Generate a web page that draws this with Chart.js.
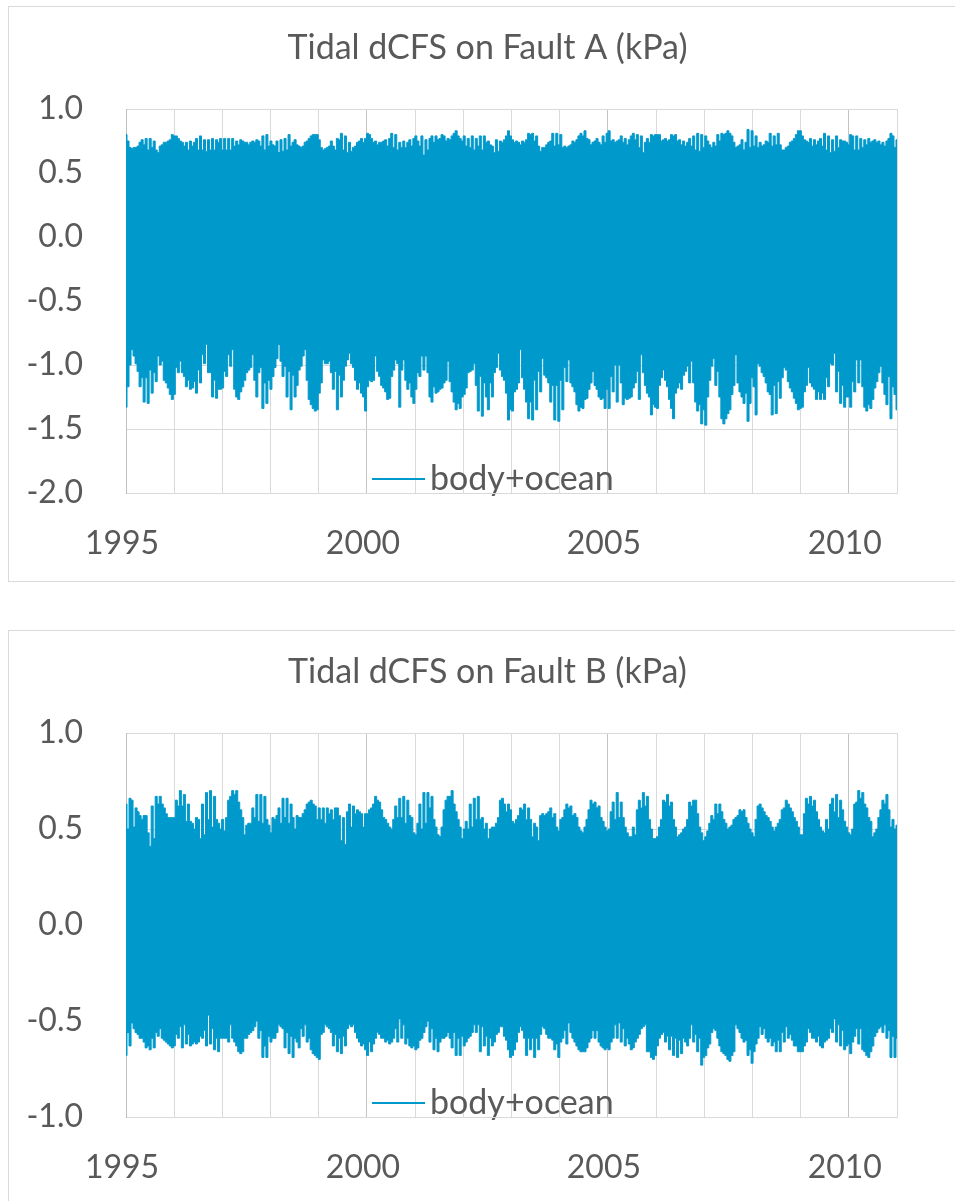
<!DOCTYPE html>
<html><head><meta charset="utf-8">
<script src="https://cdn.jsdelivr.net/npm/chart.js@4.4.1/dist/chart.umd.min.js"></script>
<style>
html,body{margin:0;padding:0;background:#fff;overflow:hidden;width:955px;height:1201px;}
.panel{position:absolute;left:8px;width:959px;border:1px solid #d9d9d9;box-sizing:border-box;background:#fff;}
canvas{position:absolute;left:0;}
</style></head><body>
<div class="panel" style="top:6px;height:576px"></div>
<div class="panel" style="top:630px;height:600px"></div>
<canvas id="cA" width="955" height="580" style="top:0px"></canvas>
<canvas id="cB" width="955" height="580" style="top:624px"></canvas>
<script>
// ---------------- data ----------------
const titleA = 'Tidal dCFS on Fault A (kPa)';
const titleB = 'Tidal dCFS on Fault B (kPa)';
const seriesName = 'body+ocean';
const yearTicks = [1995,1996,1997,1998,1999,2000,2001,2002,2003,2004,2005,2006,2007,2008,2009,2010,2011];
const xTickLabels = ['1995','2000','2005','2010'];
const yTicksA = [-2.0,-1.5,-1.0,-0.5,0.0,0.5,1.0];
const yTicksB = [-1.0,-0.5,0.0,0.5,1.0];
const seriesStart = 1995, seriesEnd = 2011;

// Fault A: upper / lower envelope of the tidal signal, half-monthly samples, 1995-2011
const upperA = [
0.80,0.75,0.70,0.69,0.70,0.70,0.71,0.74,0.76,0.72,0.77,0.68,0.77,0.70,0.75,0.68,0.66,0.71,0.72,0.74,0.74,0.75,0.76,0.80,
0.79,0.79,0.77,0.75,0.74,0.71,0.74,0.68,0.75,0.71,0.74,0.77,0.68,0.79,0.68,0.76,0.67,0.76,0.68,0.77,0.68,0.76,0.74,0.77,
0.68,0.77,0.68,0.77,0.68,0.77,0.71,0.75,0.72,0.76,0.75,0.74,0.74,0.72,0.74,0.75,0.74,0.76,0.75,0.71,0.79,0.68,0.80,0.71,
0.75,0.72,0.71,0.75,0.66,0.76,0.67,0.77,0.68,0.80,0.71,0.74,0.76,0.72,0.71,0.70,0.71,0.74,0.75,0.77,0.79,0.80,0.80,0.80,
0.76,0.70,0.68,0.69,0.70,0.71,0.75,0.71,0.68,0.77,0.76,0.81,0.68,0.79,0.66,0.74,0.67,0.70,0.71,0.74,0.75,0.77,0.74,0.77,
0.81,0.80,0.77,0.74,0.75,0.72,0.74,0.74,0.75,0.76,0.71,0.77,0.81,0.70,0.80,0.68,0.74,0.70,0.75,0.70,0.74,0.76,0.71,0.77,
0.79,0.75,0.71,0.79,0.64,0.76,0.68,0.77,0.79,0.74,0.79,0.76,0.77,0.80,0.79,0.75,0.77,0.76,0.79,0.81,0.83,0.79,0.77,0.75,
0.79,0.71,0.77,0.70,0.79,0.68,0.77,0.71,0.79,0.68,0.79,0.74,0.75,0.72,0.71,0.66,0.76,0.67,0.75,0.74,0.76,0.79,0.83,0.79,
0.76,0.74,0.75,0.74,0.72,0.75,0.74,0.76,0.81,0.80,0.81,0.75,0.79,0.71,0.67,0.70,0.70,0.72,0.74,0.75,0.81,0.71,0.81,0.72,
0.80,0.70,0.71,0.70,0.71,0.72,0.75,0.74,0.76,0.79,0.81,0.79,0.83,0.77,0.76,0.72,0.74,0.75,0.77,0.74,0.72,0.79,0.74,0.81,
0.83,0.75,0.76,0.74,0.75,0.76,0.79,0.74,0.77,0.72,0.76,0.79,0.81,0.76,0.80,0.70,0.79,0.66,0.74,0.77,0.74,0.80,0.79,0.80,
0.80,0.80,0.75,0.76,0.77,0.75,0.76,0.80,0.79,0.80,0.75,0.76,0.72,0.75,0.71,0.74,0.77,0.71,0.79,0.68,0.81,0.67,0.80,0.70,
0.79,0.75,0.72,0.70,0.74,0.71,0.80,0.75,0.81,0.80,0.81,0.83,0.81,0.79,0.74,0.70,0.71,0.72,0.76,0.68,0.74,0.84,0.70,0.83,
0.71,0.79,0.70,0.74,0.71,0.72,0.75,0.74,0.81,0.71,0.79,0.72,0.81,0.72,0.68,0.68,0.70,0.71,0.74,0.75,0.77,0.80,0.83,0.83,
0.79,0.76,0.75,0.74,0.77,0.71,0.76,0.72,0.75,0.77,0.71,0.81,0.68,0.79,0.66,0.76,0.67,0.79,0.70,0.76,0.75,0.75,0.74,0.72,
0.80,0.79,0.68,0.79,0.68,0.77,0.70,0.76,0.72,0.77,0.74,0.75,0.76,0.74,0.75,0.72,0.74,0.71,0.75,0.77,0.81,0.79,0.70,0.76
];
const lowerA = [
-1.33,-1.17,-1.00,-0.88,-0.93,-0.99,-1.05,-1.17,-1.10,-1.29,-1.10,-1.30,-1.04,-1.22,-1.06,-1.13,-0.93,-1.00,-0.97,-1.12,-1.14,-1.18,-1.23,-1.27,
-1.23,-1.02,-1.06,-0.97,-1.06,-1.09,-1.17,-1.12,-1.19,-1.18,-1.13,-1.22,-1.04,-1.14,-0.92,-0.99,-0.84,-1.06,-1.06,-1.25,-1.12,-1.26,-1.19,-1.19,
-1.18,-1.05,-1.09,-0.92,-1.01,-0.88,-1.19,-1.25,-1.27,-1.21,-1.17,-1.12,-1.06,-1.04,-1.02,-0.92,-1.12,-1.25,-1.06,-1.02,-1.34,-1.14,-1.30,-1.12,
-1.19,-1.09,-1.02,-0.95,-0.84,-0.97,-1.09,-1.01,-1.25,-1.05,-1.35,-1.08,-1.25,-1.16,-1.04,-1.01,-0.93,-0.88,-1.12,-1.27,-1.31,-1.34,-1.36,-1.35,
-1.22,-1.14,-0.96,-0.99,-0.99,-0.97,-1.06,-1.19,-1.05,-1.35,-1.08,-1.25,-1.12,-1.01,-0.96,-0.91,-0.99,-1.02,-1.12,-1.19,-1.14,-1.22,-1.25,-1.36,
-1.17,-1.12,-1.13,-1.12,-0.93,-1.05,-1.09,-1.16,-1.18,-1.21,-1.27,-1.26,-1.09,-1.04,-0.96,-0.99,-1.33,-1.04,-0.96,-1.12,-1.19,-1.14,-1.25,-1.30,
-1.19,-1.06,-1.09,-0.93,-1.04,-0.93,-1.06,-1.25,-1.29,-1.17,-1.22,-1.21,-1.19,-1.18,-1.14,-1.12,-0.97,-1.13,-1.21,-1.29,-1.35,-1.30,-1.34,-1.25,
-1.23,-1.18,-1.06,-1.05,-1.04,-0.99,-1.16,-1.36,-1.09,-1.40,-1.14,-1.25,-1.35,-1.14,-1.25,-1.06,-1.02,-0.91,-1.04,-1.09,-1.12,-1.22,-1.43,-1.35,
-1.36,-1.21,-1.19,-1.14,-0.88,-1.10,-1.19,-1.29,-1.42,-1.29,-1.43,-1.12,-1.35,-1.05,-1.21,-0.95,-1.08,-1.10,-1.14,-1.29,-1.16,-1.43,-1.16,-1.44,
-1.12,-1.35,-1.02,-1.13,-0.96,-1.14,-1.17,-1.21,-1.31,-1.36,-1.33,-1.34,-1.27,-1.26,-1.19,-1.14,-1.05,-1.16,-1.19,-1.25,-1.27,-1.26,-1.34,-1.19,
-1.34,-1.09,-1.21,-1.00,-1.29,-1.00,-1.14,-1.31,-1.26,-1.27,-1.26,-1.25,-1.18,-1.14,-1.05,-1.27,-0.92,-1.06,-1.16,-1.22,-1.25,-1.39,-1.31,-1.33,
-1.34,-1.16,-1.10,-1.04,-1.12,-1.17,-1.27,-1.34,-1.42,-1.22,-1.18,-1.14,-1.19,-1.08,-1.05,-1.01,-1.14,-0.97,-1.14,-1.29,-1.36,-1.31,-1.46,-1.35,
-1.47,-1.25,-1.12,-1.01,-0.95,-1.16,-1.05,-1.25,-1.42,-1.46,-1.42,-1.38,-1.35,-1.23,-1.16,-0.92,-1.14,-1.21,-1.25,-1.30,-1.22,-1.44,-1.30,-1.10,
-1.17,-1.39,-0.99,-1.01,-1.06,-1.09,-1.14,-1.21,-1.23,-1.39,-1.16,-1.38,-1.13,-1.26,-1.10,-1.02,-1.04,-1.13,-1.18,-1.21,-1.26,-1.30,-1.35,-1.34,
-1.33,-1.21,-1.16,-1.02,-1.14,-1.17,-1.19,-1.27,-1.21,-1.27,-1.22,-1.27,-1.10,-1.17,-0.99,-1.00,-0.91,-1.21,-1.05,-1.30,-1.16,-1.33,-1.25,-1.25,
-1.33,-1.13,-1.21,-0.96,-1.14,-0.96,-1.17,-1.33,-1.36,-1.31,-1.34,-1.27,-1.18,-1.13,-1.06,-1.01,-1.14,-1.23,-1.31,-1.09,-1.42,-1.17,-1.23,-1.35
];

// Fault B
const upperB = [
0.63,0.50,0.66,0.65,0.51,0.61,0.59,0.57,0.55,0.57,0.57,0.48,0.41,0.62,0.45,0.67,0.63,0.67,0.63,0.61,0.58,0.56,0.56,0.56,
0.56,0.65,0.62,0.70,0.62,0.68,0.54,0.63,0.54,0.53,0.50,0.56,0.55,0.45,0.63,0.47,0.69,0.55,0.70,0.51,0.67,0.55,0.53,0.50,
0.55,0.49,0.56,0.65,0.67,0.70,0.68,0.70,0.64,0.60,0.56,0.47,0.52,0.53,0.53,0.61,0.56,0.68,0.54,0.68,0.53,0.67,0.55,0.52,
0.48,0.56,0.55,0.57,0.61,0.53,0.66,0.56,0.66,0.53,0.63,0.56,0.50,0.57,0.56,0.56,0.58,0.60,0.63,0.64,0.65,0.63,0.62,0.55,
0.61,0.55,0.61,0.53,0.61,0.58,0.60,0.55,0.61,0.61,0.57,0.44,0.56,0.42,0.59,0.63,0.51,0.62,0.58,0.60,0.59,0.58,0.51,0.58,
0.58,0.60,0.61,0.63,0.67,0.65,0.64,0.60,0.56,0.55,0.53,0.51,0.50,0.55,0.62,0.56,0.66,0.56,0.67,0.53,0.65,0.57,0.56,0.48,
0.47,0.53,0.63,0.50,0.69,0.53,0.69,0.61,0.67,0.55,0.51,0.47,0.46,0.51,0.60,0.65,0.67,0.67,0.70,0.63,0.59,0.55,0.51,0.45,
0.50,0.54,0.50,0.63,0.51,0.66,0.55,0.67,0.55,0.56,0.50,0.53,0.45,0.50,0.51,0.51,0.53,0.56,0.65,0.66,0.63,0.59,0.63,0.60,
0.54,0.53,0.55,0.57,0.61,0.60,0.63,0.55,0.61,0.55,0.46,0.53,0.51,0.44,0.57,0.58,0.57,0.58,0.59,0.61,0.56,0.58,0.51,0.49,
0.55,0.56,0.60,0.63,0.61,0.62,0.57,0.58,0.56,0.51,0.49,0.48,0.51,0.55,0.60,0.65,0.63,0.64,0.61,0.62,0.56,0.54,0.51,0.49,
0.50,0.59,0.64,0.55,0.69,0.56,0.64,0.56,0.51,0.48,0.46,0.46,0.51,0.47,0.60,0.65,0.61,0.69,0.62,0.67,0.55,0.50,0.45,0.45,
0.46,0.51,0.55,0.65,0.64,0.68,0.62,0.64,0.55,0.51,0.46,0.47,0.48,0.50,0.51,0.55,0.64,0.62,0.65,0.65,0.58,0.51,0.48,0.44,
0.46,0.49,0.53,0.57,0.55,0.63,0.58,0.63,0.59,0.55,0.53,0.50,0.51,0.52,0.55,0.56,0.57,0.60,0.59,0.60,0.56,0.53,0.50,0.48,
0.46,0.55,0.62,0.63,0.61,0.59,0.57,0.56,0.54,0.51,0.49,0.51,0.53,0.55,0.60,0.61,0.65,0.63,0.61,0.59,0.56,0.54,0.51,0.47,
0.47,0.58,0.66,0.63,0.67,0.62,0.65,0.59,0.55,0.51,0.49,0.48,0.55,0.50,0.63,0.66,0.59,0.68,0.56,0.65,0.60,0.54,0.51,0.48,
0.47,0.50,0.63,0.64,0.70,0.66,0.69,0.63,0.61,0.56,0.54,0.46,0.48,0.50,0.56,0.60,0.65,0.63,0.68,0.60,0.51,0.55,0.50,0.52
];
const lowerB = [
-0.68,-0.56,-0.63,-0.51,-0.54,-0.56,-0.57,-0.59,-0.59,-0.61,-0.64,-0.63,-0.65,-0.59,-0.64,-0.56,-0.58,-0.54,-0.59,-0.60,-0.61,-0.62,-0.63,-0.64,
-0.63,-0.57,-0.59,-0.53,-0.64,-0.52,-0.62,-0.57,-0.63,-0.62,-0.61,-0.62,-0.61,-0.58,-0.59,-0.55,-0.63,-0.47,-0.62,-0.54,-0.65,-0.59,-0.66,-0.59,
-0.59,-0.59,-0.59,-0.61,-0.52,-0.59,-0.61,-0.63,-0.66,-0.67,-0.66,-0.59,-0.59,-0.57,-0.56,-0.55,-0.53,-0.50,-0.59,-0.55,-0.69,-0.63,-0.69,-0.58,
-0.61,-0.59,-0.59,-0.56,-0.52,-0.53,-0.54,-0.64,-0.56,-0.67,-0.58,-0.69,-0.59,-0.61,-0.64,-0.54,-0.58,-0.52,-0.61,-0.59,-0.65,-0.67,-0.68,-0.69,
-0.70,-0.57,-0.56,-0.52,-0.53,-0.54,-0.56,-0.63,-0.57,-0.66,-0.59,-0.67,-0.58,-0.63,-0.54,-0.52,-0.53,-0.52,-0.56,-0.59,-0.61,-0.63,-0.62,-0.65,
-0.68,-0.61,-0.66,-0.62,-0.59,-0.56,-0.57,-0.59,-0.59,-0.61,-0.60,-0.62,-0.61,-0.59,-0.54,-0.61,-0.49,-0.59,-0.52,-0.62,-0.59,-0.63,-0.64,-0.63,
-0.65,-0.64,-0.60,-0.59,-0.56,-0.53,-0.50,-0.61,-0.54,-0.65,-0.59,-0.66,-0.61,-0.59,-0.59,-0.58,-0.56,-0.59,-0.64,-0.56,-0.68,-0.59,-0.68,-0.58,
-0.63,-0.61,-0.59,-0.58,-0.56,-0.52,-0.56,-0.52,-0.66,-0.53,-0.63,-0.58,-0.68,-0.59,-0.63,-0.61,-0.57,-0.56,-0.53,-0.53,-0.58,-0.60,-0.65,-0.69,
-0.68,-0.65,-0.61,-0.56,-0.53,-0.55,-0.59,-0.68,-0.59,-0.65,-0.59,-0.69,-0.59,-0.65,-0.57,-0.53,-0.54,-0.57,-0.59,-0.59,-0.60,-0.65,-0.62,-0.69,
-0.61,-0.59,-0.55,-0.62,-0.51,-0.56,-0.59,-0.61,-0.63,-0.65,-0.66,-0.66,-0.66,-0.64,-0.61,-0.59,-0.55,-0.59,-0.55,-0.61,-0.63,-0.64,-0.65,-0.64,
-0.65,-0.61,-0.59,-0.52,-0.59,-0.51,-0.61,-0.54,-0.63,-0.59,-0.62,-0.65,-0.64,-0.61,-0.59,-0.57,-0.54,-0.53,-0.52,-0.66,-0.66,-0.69,-0.70,-0.68,
-0.63,-0.59,-0.57,-0.56,-0.61,-0.58,-0.65,-0.58,-0.68,-0.59,-0.69,-0.60,-0.67,-0.59,-0.61,-0.63,-0.59,-0.52,-0.61,-0.57,-0.66,-0.59,-0.73,-0.69,
-0.68,-0.64,-0.62,-0.56,-0.54,-0.55,-0.59,-0.63,-0.66,-0.67,-0.68,-0.70,-0.71,-0.68,-0.66,-0.52,-0.54,-0.56,-0.59,-0.61,-0.60,-0.68,-0.65,-0.72,
-0.66,-0.62,-0.59,-0.53,-0.57,-0.54,-0.59,-0.61,-0.59,-0.63,-0.61,-0.66,-0.60,-0.66,-0.56,-0.61,-0.53,-0.59,-0.57,-0.60,-0.63,-0.63,-0.66,-0.66,
-0.66,-0.63,-0.61,-0.54,-0.56,-0.59,-0.59,-0.61,-0.58,-0.63,-0.64,-0.61,-0.60,-0.59,-0.54,-0.56,-0.49,-0.61,-0.52,-0.63,-0.55,-0.65,-0.63,-0.62,
-0.67,-0.61,-0.58,-0.54,-0.62,-0.54,-0.65,-0.66,-0.68,-0.69,-0.66,-0.63,-0.58,-0.56,-0.54,-0.53,-0.56,-0.52,-0.59,-0.55,-0.69,-0.58,-0.69,-0.59
];

// ---------------- styling ----------------
const BLUE = '#0099cc';
const TEXT = '#595959';
const FONT = 'Lato';
const GRID = '#d9d9d9';
const GRID_MAJOR = '#c4c4c4';

Chart.defaults.font.family = FONT;
Chart.defaults.color = TEXT;

// legend line sample (image point style)
const legendLine = document.createElement('canvas');
legendLine.width = 53; legendLine.height = 2;
(function(){ const c = legendLine.getContext('2d'); c.fillStyle = BLUE; c.fillRect(0, 0, 53, 2); })();

function toPoints(values) {
  const n = values.length;
  return values.map((v, k) => ({x: seriesStart + k * (seriesEnd - seriesStart) / (n - 1), y: v}));
}

// places the legend inside the plot (bottom) and centres the title over the whole panel
const LEGEND_PAD = 14;
const boxPlacer = {
  id: 'boxPlacer',
  afterLayout(chart) {
    const lg = chart.legend;
    if (lg) {
      lg.left = 384 - LEGEND_PAD; lg.top = 462 - LEGEND_PAD;
      lg.width = 360; lg.height = 36 + 2 * LEGEND_PAD;
      lg.right = lg.left + lg.width; lg.bottom = lg.top + lg.height;
    }
    const tb = chart.titleBlock;
    if (tb) { tb.left = 78; tb.right = 897; tb.width = tb.right - tb.left; }
  }
};

function makeChart(id, title, upper, lower, yTicks) {
  const yMin = Math.min(...yTicks), yMax = Math.max(...yTicks);
  return new Chart(document.getElementById(id), {
    type: 'line',
    data: {
      datasets: [
        {label: seriesName, data: toPoints(upper), borderColor: BLUE, backgroundColor: BLUE,
         borderWidth: 1, pointRadius: 0, stepped: 'middle', fill: '+1'},
        {label: seriesName + ' lower', data: toPoints(lower), borderColor: BLUE, backgroundColor: BLUE,
         borderWidth: 1, pointRadius: 0, stepped: 'middle', fill: false}
      ]
    },
    options: {
      responsive: false, animation: false, events: [],
      layout: {padding: {left: 16, right: 58, top: 0, bottom: 0}},
      scales: {
        x: {
          type: 'linear', min: yearTicks[0], max: yearTicks[yearTicks.length - 1],
          afterBuildTicks: s => { s.ticks = yearTicks.map(v => ({value: v})); },
          afterFit: s => { s.height = 87; },
          grid: {drawTicks: false, lineWidth: 1,
                 color: c => (c.tick && xTickLabels.includes(String(c.tick.value))) ? GRID_MAJOR : GRID},
          border: {color: GRID, width: 1},
          ticks: {autoSkip: false, maxRotation: 0, minRotation: 0, padding: 31, labelOffset: -4,
                  color: TEXT, font: {family: FONT, size: 32},
                  callback: v => xTickLabels.includes(String(v)) ? String(v) : ''}
        },
        y: {
          min: yMin, max: yMax,
          afterBuildTicks: s => { s.ticks = yTicks.map(v => ({value: v})); },
          afterFit: s => { s.width = 110; },
          grid: {drawTicks: false, color: GRID, lineWidth: 1},
          border: {color: '#bfbfbf', width: 1},
          ticks: {padding: 43, color: TEXT, font: {family: FONT, size: 32},
                  callback: v => Number(v).toFixed(1)}
        }
      },
      plugins: {
        title: {display: true, text: title, color: TEXT,
                font: {family: FONT, size: 34, weight: 'normal', lineHeight: 1.2},
                padding: {top: 28, bottom: 40.2}},
        legend: {
          display: true, position: 'chartArea', align: 'start',
          labels: {usePointStyle: true, pointStyle: legendLine, pointStyleWidth: 29, padding: LEGEND_PAD,
                   color: TEXT, font: {family: FONT, size: 34},
                   filter: item => item.datasetIndex === 0}
        },
        tooltip: {enabled: false}
      }
    },
    plugins: [boxPlacer]
  });
}

makeChart('cA', titleA, upperA, lowerA, yTicksA);
makeChart('cB', titleB, upperB, lowerB, yTicksB);
</script>
</body></html>
